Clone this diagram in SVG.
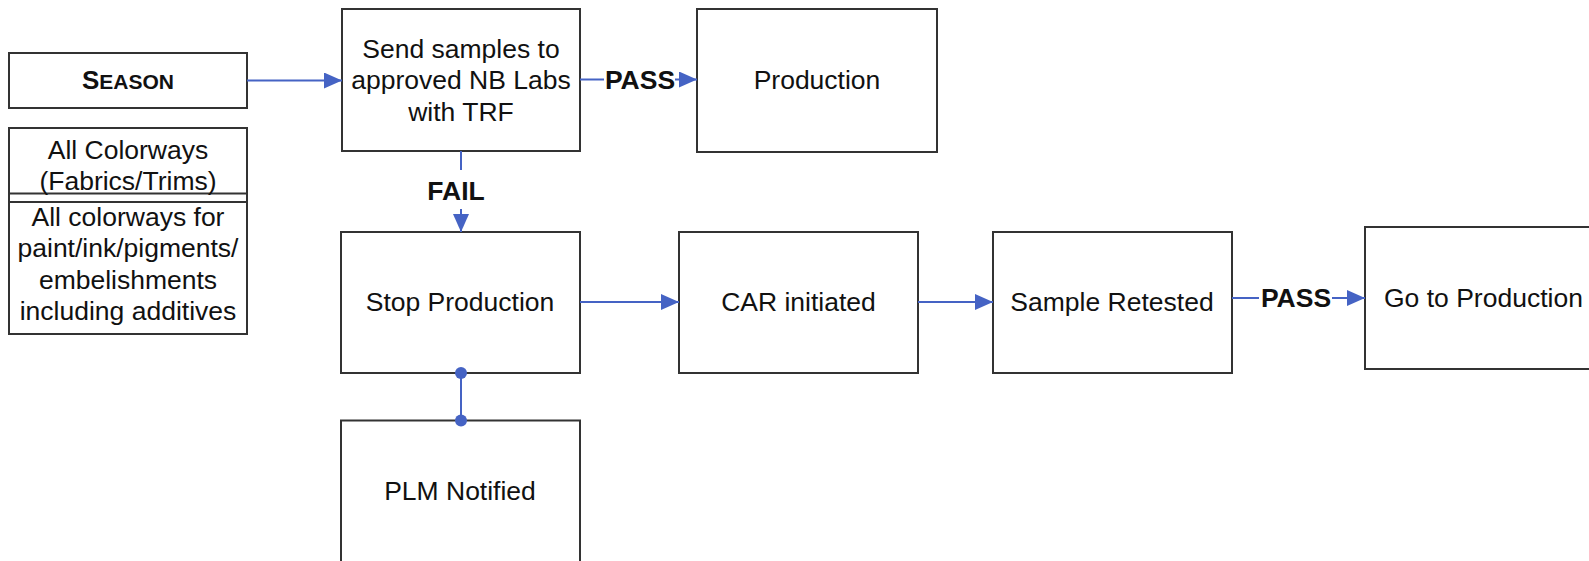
<svg xmlns="http://www.w3.org/2000/svg" width="1589" height="561" viewBox="0 0 1589 561">
<defs>
<marker id="arr" markerUnits="userSpaceOnUse" markerWidth="20" markerHeight="16" refX="18" refY="8" orient="auto">
<path d="M0,0 L18,8 L0,16 Z" fill="#4563c4"/>
</marker>
<style>
.box{fill:#fff;stroke:#333;stroke-width:2}
.t{font-family:"Liberation Sans",Arial,sans-serif;font-size:26.5px;fill:#111;text-anchor:middle}
.ts{font-family:"Liberation Sans",Arial,sans-serif;font-size:26.5px;fill:#111;text-anchor:start}
.lbl{font-family:"Liberation Sans",Arial,sans-serif;font-size:26.5px;font-weight:bold;fill:#111;text-anchor:middle}
.c{fill:none;stroke:#4563c4;stroke-width:2}
.dot{fill:#4563c4}
</style>
</defs>
<rect width="1589" height="561" fill="#fff"/>
<g id="season">
<rect class="box" x="9" y="53" width="238" height="55"/>
<text class="t" x="128" y="89" font-weight="bold"><tspan font-size="26">S</tspan><tspan font-size="21">EASON</tspan></text>
</g>
<g id="colorways">
<rect class="box" x="9" y="128" width="238" height="206"/>
<line x1="9" y1="193.5" x2="247" y2="193.5" stroke="#333" stroke-width="2"/>
<line x1="9" y1="202" x2="247" y2="202" stroke="#333" stroke-width="2"/>
<text class="t" x="128" y="159">All Colorways</text>
<text class="t" x="128" y="190">(Fabrics/Trims)</text>
<text class="t" x="128" y="226">All colorways for</text>
<text class="t" x="128" y="257">paint/ink/pigments/</text>
<text class="t" x="128" y="289">embelishments</text>
<text class="t" x="128" y="320">including additives</text>
</g>
<g id="send">
<rect class="box" x="342" y="9" width="238" height="142"/>
<text class="t" x="461" y="57.5">Send samples to</text>
<text class="t" x="461" y="89">approved NB Labs</text>
<text class="t" x="461" y="120.5">with TRF</text>
</g>
<g id="production">
<rect class="box" x="697" y="9" width="240" height="143"/>
<text class="t" x="817" y="89">Production</text>
</g>
<g id="stop">
<rect class="box" x="341" y="232" width="239" height="141"/>
<text class="t" x="460" y="311">Stop Production</text>
</g>
<g id="car">
<rect class="box" x="679" y="232" width="239" height="141"/>
<text class="t" x="798.5" y="311">CAR initiated</text>
</g>
<g id="retested">
<rect class="box" x="993" y="232" width="239" height="141"/>
<text class="t" x="1112" y="311">Sample Retested</text>
</g>
<g id="goprod">
<rect class="box" x="1365" y="227" width="240" height="142"/>
<text class="ts" x="1384" y="307">Go to Production</text>
</g>
<g id="plm">
<rect class="box" x="341" y="420.5" width="239" height="145"/>
<text class="t" x="460" y="500">PLM Notified</text>
</g>
<g id="connectors">
<line class="c" x1="247" y1="80.5" x2="342" y2="80.5" marker-end="url(#arr)"/>
<line class="c" x1="580" y1="79.5" x2="604" y2="79.5"/>
<text class="lbl" x="640" y="89">PASS</text>
<line class="c" x1="675" y1="79.5" x2="697" y2="79.5" marker-end="url(#arr)"/>
<line class="c" x1="461" y1="151" x2="461" y2="170"/>
<text class="lbl" x="456" y="200">FAIL</text>
<line class="c" x1="461" y1="209" x2="461" y2="232" marker-end="url(#arr)"/>
<line class="c" x1="580" y1="302" x2="679" y2="302" marker-end="url(#arr)"/>
<line class="c" x1="918" y1="302" x2="993" y2="302" marker-end="url(#arr)"/>
<line class="c" x1="1232" y1="298" x2="1259" y2="298"/>
<text class="lbl" x="1296" y="307">PASS</text>
<line class="c" x1="1332" y1="298" x2="1365" y2="298" marker-end="url(#arr)"/>
<line class="c" x1="461" y1="373" x2="461" y2="420.5"/>
<circle class="dot" cx="461" cy="373" r="6"/>
<circle class="dot" cx="461" cy="420.5" r="6"/>
</g>
</svg>
